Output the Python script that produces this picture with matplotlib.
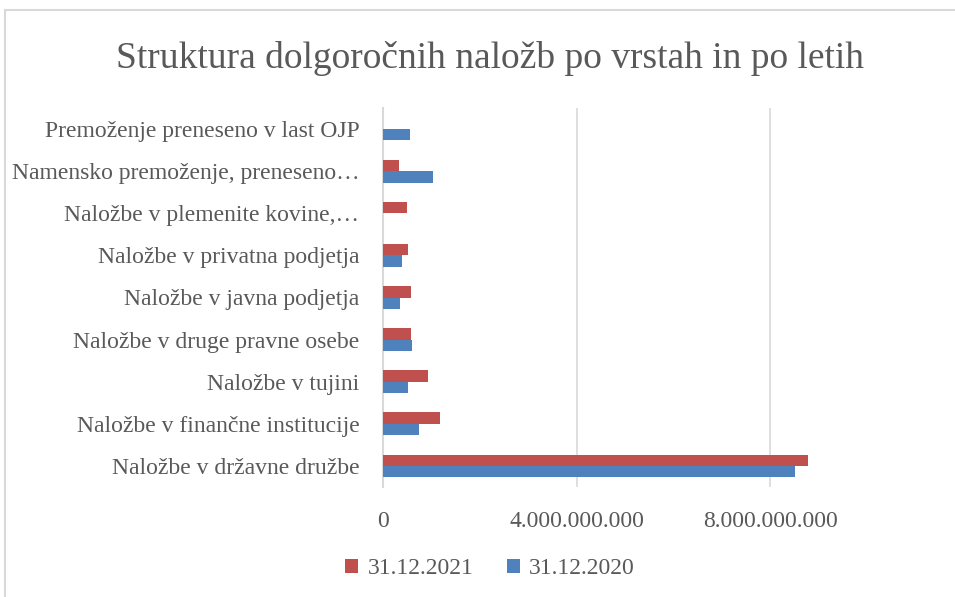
import matplotlib
matplotlib.use("Agg")
import matplotlib.pyplot as plt
from matplotlib.patches import Rectangle
import numpy as np

plt.rcParams['font.family'] = ['Liberation Serif', 'DejaVu Serif']

categories = ["Naložbe v državne družbe",
              "Naložbe v finančne institucije",
              "Naložbe v tujini",
              "Naložbe v druge pravne osebe",
              "Naložbe v javna podjetja",
              "Naložbe v privatna podjetja",
              "Naložbe v plemenite kovine,…",
              "Namensko premoženje, preneseno…",
              "Premoženje preneseno v last OJP"]
vals_2021 = [8.78e9, 1.17e9, 0.93e9, 0.58e9, 0.58e9, 0.52e9, 0.50e9, 0.34e9, 0.0]
vals_2020 = [8.52e9, 0.74e9, 0.51e9, 0.59e9, 0.36e9, 0.39e9, 0.0, 1.04e9, 0.55e9]
xticks = [0, 4e9, 8e9]
xticklabels = ["0", "4.000.000.000", "8.000.000.000"]

red = "#C0504D"
blue = "#4F81BD"
txt = "#595959"
grid = "#D9D9D9"

fig = plt.figure(figsize=(9.55, 5.97), dpi=100)
fig.patches.append(Rectangle((5/955, -0.1), 1.1, 1 - 10/597 + 0.1, transform=fig.transFigure,
                             fill=False, edgecolor=grid, linewidth=1.5))
ax = fig.add_axes([383/955, 1 - 487/597, 484/955, 379/597])

y = np.arange(len(categories))
h = 0.27
ax.barh(y + h/2, vals_2021, height=h, color=red, label="31.12.2021", zorder=3)
ax.barh(y - h/2, vals_2020, height=h, color=blue, label="31.12.2020", zorder=3)

ax.set_ylim(-0.5, len(categories) - 0.5)
ax.set_xlim(0, 10e9)
ax.set_yticks(y)
ax.set_yticklabels(categories, fontsize=17, color=txt)
ax.set_xticks(xticks)
ax.set_xticklabels(xticklabels, fontsize=17, color=txt)
ax.tick_params(axis='both', length=0)
ax.tick_params(axis='y', pad=17)
ax.tick_params(axis='x', pad=17)
ax.grid(axis='x', color=grid, linewidth=1.2, zorder=0)
for s in ['top', 'right', 'bottom']:
    ax.spines[s].set_visible(False)
ax.spines['left'].set_color(grid)
ax.spines['left'].set_linewidth(1.5)

fig.text(490/955, 1 - 58/597, "Struktura dolgoročnih naložb po vrstah in po letih",
         fontsize=27, color=txt, ha='center', va='center')

leg = fig.legend(loc='center', bbox_to_anchor=(490/955, 1 - 569/597), ncol=2, frameon=False,
                 fontsize=17, handlelength=0.55, handleheight=0.55, handletextpad=0.4,
                 columnspacing=1.4)
for t in leg.get_texts():
    t.set_color(txt)

fig.savefig("out.png", dpi=100)
